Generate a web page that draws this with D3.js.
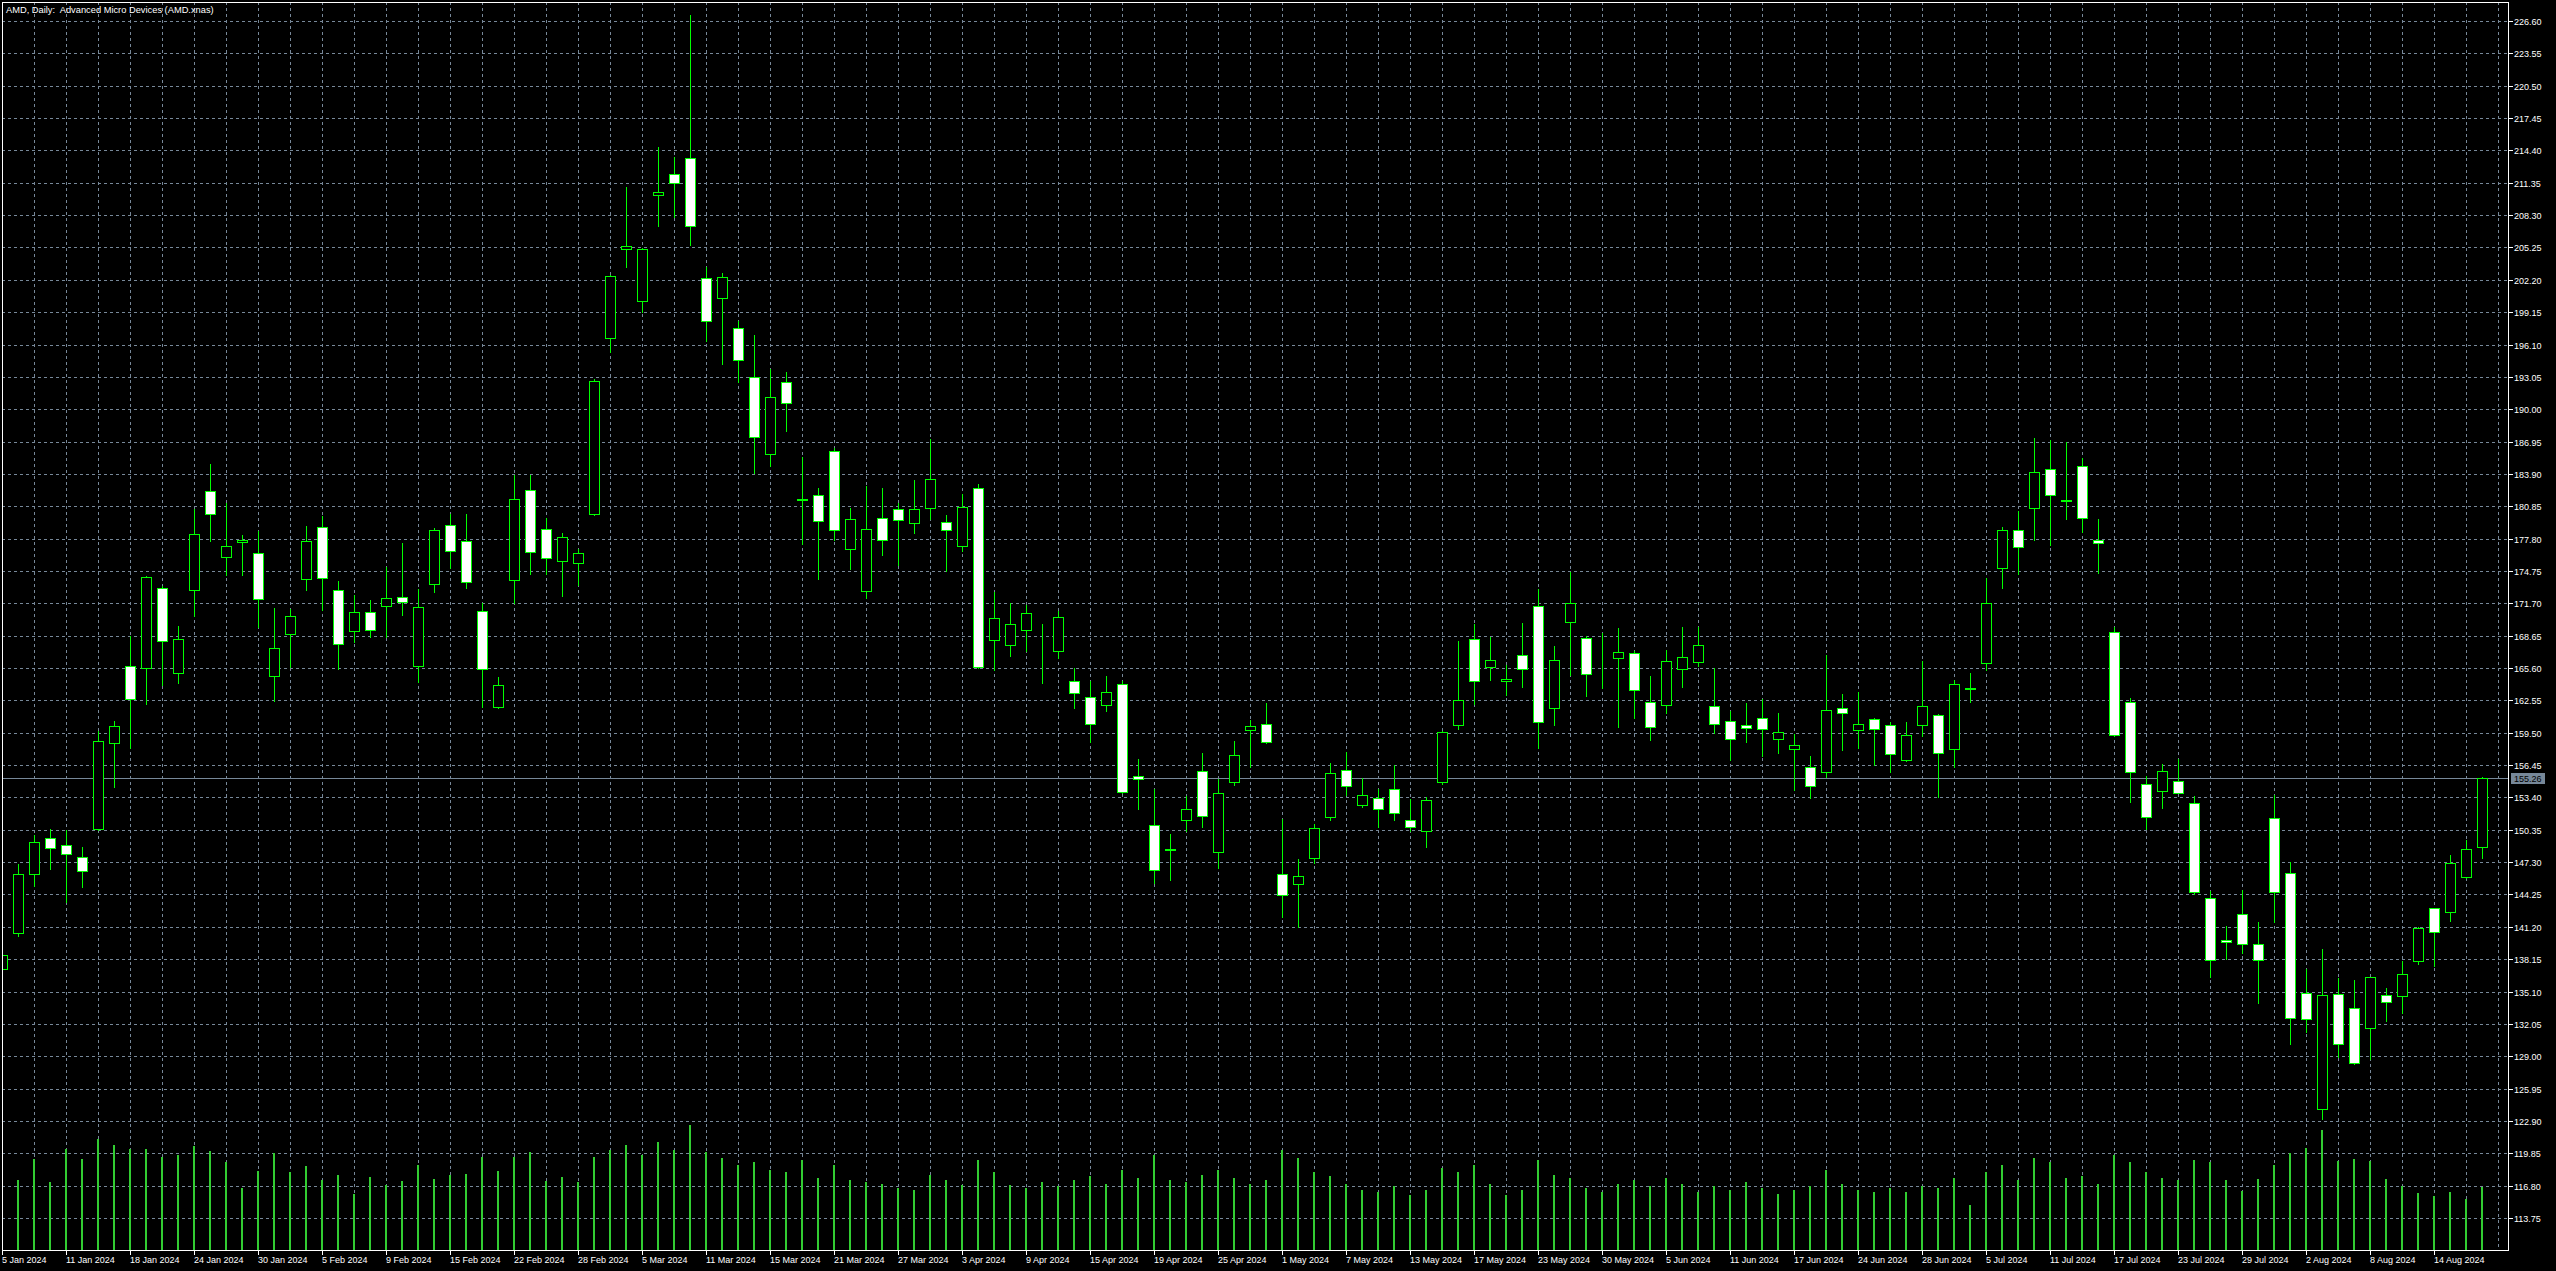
<!DOCTYPE html>
<html><head><meta charset="utf-8">
<script src="https://cdn.jsdelivr.net/npm/d3@7"></script>
<style>html,body{margin:0;padding:0;background:#000;overflow:hidden}</style>
</head><body>
<script>
const title = "AMD, Daily:  Advanced Micro Devices (AMD.xnas)";
const lastPrice = 155.26;

const dates = [
"5 Jan 2024","8 Jan 2024","9 Jan 2024","10 Jan 2024","11 Jan 2024","12 Jan 2024","16 Jan 2024","17 Jan 2024","18 Jan 2024","19 Jan 2024","22 Jan 2024","23 Jan 2024","24 Jan 2024","25 Jan 2024","26 Jan 2024","29 Jan 2024","30 Jan 2024","31 Jan 2024",
"1 Feb 2024","2 Feb 2024","5 Feb 2024","6 Feb 2024","7 Feb 2024","8 Feb 2024","9 Feb 2024","12 Feb 2024","13 Feb 2024","14 Feb 2024","15 Feb 2024","16 Feb 2024","20 Feb 2024","21 Feb 2024","22 Feb 2024","23 Feb 2024","26 Feb 2024","27 Feb 2024","28 Feb 2024","29 Feb 2024",
"1 Mar 2024","4 Mar 2024","5 Mar 2024","6 Mar 2024","7 Mar 2024","8 Mar 2024","11 Mar 2024","12 Mar 2024","13 Mar 2024","14 Mar 2024","15 Mar 2024","18 Mar 2024","19 Mar 2024","20 Mar 2024","21 Mar 2024","22 Mar 2024","25 Mar 2024","26 Mar 2024","27 Mar 2024","28 Mar 2024",
"1 Apr 2024","2 Apr 2024","3 Apr 2024","4 Apr 2024","5 Apr 2024","8 Apr 2024","9 Apr 2024","10 Apr 2024","11 Apr 2024","12 Apr 2024","15 Apr 2024","16 Apr 2024","17 Apr 2024","18 Apr 2024","19 Apr 2024","22 Apr 2024","23 Apr 2024","24 Apr 2024","25 Apr 2024","26 Apr 2024","29 Apr 2024","30 Apr 2024",
"1 May 2024","2 May 2024","3 May 2024","6 May 2024","7 May 2024","8 May 2024","9 May 2024","10 May 2024","13 May 2024","14 May 2024","15 May 2024","16 May 2024","17 May 2024","20 May 2024","21 May 2024","22 May 2024","23 May 2024","24 May 2024","28 May 2024","29 May 2024","30 May 2024","31 May 2024",
"3 Jun 2024","4 Jun 2024","5 Jun 2024","6 Jun 2024","7 Jun 2024","10 Jun 2024","11 Jun 2024","12 Jun 2024","13 Jun 2024","14 Jun 2024","17 Jun 2024","18 Jun 2024","20 Jun 2024","21 Jun 2024","24 Jun 2024","25 Jun 2024","26 Jun 2024","27 Jun 2024","28 Jun 2024",
"1 Jul 2024","2 Jul 2024","3 Jul 2024","5 Jul 2024","8 Jul 2024","9 Jul 2024","10 Jul 2024","11 Jul 2024","12 Jul 2024","15 Jul 2024","16 Jul 2024","17 Jul 2024","18 Jul 2024","19 Jul 2024","22 Jul 2024","23 Jul 2024","24 Jul 2024","25 Jul 2024","26 Jul 2024","29 Jul 2024","30 Jul 2024","31 Jul 2024",
"1 Aug 2024","2 Aug 2024","5 Aug 2024","6 Aug 2024","7 Aug 2024","8 Aug 2024","9 Aug 2024","12 Aug 2024","13 Aug 2024","14 Aug 2024","15 Aug 2024","16 Aug 2024","19 Aug 2024"];

const openP = [
137.23,140.63,146.19,149.58,148.89,147.79,150.43,158.51,165.80,165.61,
173.15,165.14,172.96,182.30,176.07,177.49,176.45,164.82,168.82,174.00,
178.90,172.96,169.05,170.85,171.47,172.32,165.82,173.48,179.04,177.62,
170.94,161.94,173.92,182.34,178.73,175.70,175.48,180.16,196.76,205.09,
200.24,210.17,212.22,213.64,202.33,200.46,197.64,193.00,185.76,192.57,
181.40,181.91,186.06,176.82,172.86,179.75,180.60,179.25,180.71,179.36,
177.09,182.56,168.23,167.73,169.16,166.90,167.23,164.38,162.84,162.11,
164.07,155.41,150.82,148.45,151.26,155.92,148.28,154.88,159.75,160.35,
146.20,145.26,147.71,151.58,156.01,152.71,153.37,154.22,151.26,150.23,
154.85,160.22,168.37,165.66,164.41,166.86,171.48,161.86,169.97,168.46,
166.74,166.58,167.05,162.43,162.14,165.54,166.20,162.05,160.63,160.26,
160.92,158.94,157.99,156.29,155.82,161.86,159.75,160.82,160.20,156.92,
160.22,161.16,157.97,163.65,166.12,175.00,178.62,180.68,184.38,181.45,
184.67,177.71,168.95,162.43,154.64,153.99,154.93,152.86,143.92,139.94,
142.40,139.57,151.45,146.26,134.95,124.00,134.85,133.53,131.64,134.76,
134.66,137.96,142.96,142.58,145.89,148.72];

const highP = [
139.40,147.16,149.83,150.46,150.37,148.73,159.64,160.64,168.60,174.30,
173.30,169.60,180.63,184.87,181.17,178.18,178.49,171.30,171.17,179.03,
179.97,173.84,172.45,172.05,175.08,177.35,173.07,178.80,180.16,180.16,
171.69,164.79,183.81,183.81,179.71,178.37,176.81,192.89,202.70,210.93,
205.20,214.71,213.78,227.18,203.44,202.87,198.34,196.96,193.81,193.54,
185.49,182.56,186.33,180.67,182.75,182.56,181.17,183.33,187.18,180.02,
182.02,182.94,172.74,171.70,171.58,169.77,171.01,165.62,164.34,164.84,
164.40,156.99,154.16,149.91,153.53,157.62,155.16,158.68,160.73,162.27,
151.39,147.62,150.86,156.61,157.71,155.26,154.16,156.42,153.28,153.47,
159.70,168.12,169.72,168.49,165.85,169.81,173.08,167.71,174.66,168.60,
168.93,169.41,167.20,164.81,167.30,169.50,169.50,165.57,161.55,162.27,
162.71,161.33,159.34,157.27,166.86,163.12,163.37,160.90,160.54,160.51,
166.30,161.30,164.49,165.14,174.05,178.91,180.36,187.24,187.06,186.95,
185.43,179.63,169.49,162.79,155.44,156.56,157.03,153.52,144.60,141.30,
144.69,141.67,153.65,147.27,137.27,139.13,136.39,136.20,136.50,135.45,
137.96,141.20,143.00,147.96,149.41,155.32];

const lowP = [
136.60,140.31,145.02,146.66,143.58,144.93,150.30,154.36,158.07,162.22,
164.04,164.16,170.48,177.55,174.41,174.35,169.47,162.47,165.74,172.93,
171.05,165.52,168.05,168.49,168.49,170.58,164.26,172.81,175.03,173.16,
161.94,161.80,171.69,174.50,174.50,172.41,173.39,179.98,195.43,203.44,
199.12,207.23,208.12,205.49,196.45,194.23,192.55,183.95,184.64,187.99,
177.28,173.97,177.63,174.97,172.16,176.21,175.36,178.32,179.67,174.78,
176.63,165.62,165.42,166.77,167.16,164.15,166.50,161.84,158.61,161.57,
153.80,152.27,145.29,145.61,150.23,150.64,146.77,154.57,156.26,158.50,
142.12,141.20,147.24,151.23,153.59,152.49,150.64,151.23,150.23,148.75,
154.63,159.82,162.24,164.47,163.05,163.81,158.09,160.22,164.91,162.96,
163.75,160.04,160.85,158.81,161.39,163.81,165.79,159.50,156.92,158.62,
157.30,157.62,154.09,153.34,155.35,157.87,158.09,156.45,155.78,156.85,
159.17,153.48,156.27,162.39,165.40,173.19,174.49,177.71,177.17,179.63,
178.40,174.56,159.20,153.01,150.47,152.36,153.80,144.31,136.50,138.21,
138.69,134.06,141.61,130.20,131.24,123.06,128.97,128.30,128.72,132.34,
133.12,137.74,137.55,141.77,145.80,147.65];

const closeP = [
138.52,146.19,149.20,148.64,148.07,146.44,158.73,160.14,162.69,174.19,
168.12,168.34,178.24,180.13,177.11,177.71,172.11,167.50,170.51,177.58,
174.09,167.87,170.85,169.20,172.23,171.87,171.38,178.64,176.68,173.70,
165.55,164.04,181.58,176.50,175.97,177.97,176.46,192.62,202.60,205.36,
205.09,210.44,211.37,207.32,198.28,202.51,194.64,187.37,191.15,190.61,
181.50,179.48,178.63,179.63,178.71,177.67,179.56,180.60,183.41,178.63,
180.79,165.69,170.31,169.77,170.78,166.96,170.39,163.23,160.34,163.34,
153.94,155.16,146.55,148.50,152.33,151.67,153.84,157.43,160.16,158.65,
144.22,145.98,150.54,155.73,154.47,153.65,152.33,151.96,150.64,153.18,
159.60,162.61,164.41,166.39,164.59,165.54,160.54,166.39,171.76,165.07,
166.78,167.14,163.56,160.07,166.29,166.67,167.80,160.35,158.94,159.97,
159.88,159.60,158.37,154.47,161.67,161.39,160.35,159.88,157.48,159.28,
162.03,157.57,164.13,163.73,171.70,178.62,176.99,184.09,181.91,181.37,
179.74,177.39,159.28,155.80,151.52,155.87,153.84,144.50,138.06,139.75,
139.57,138.06,144.47,132.59,132.49,134.76,130.13,128.34,136.45,134.10,
136.74,141.08,140.70,147.21,148.53,155.26];

const volumes = [
65,70,91,68,101,91,111,105,101,101,
93,95,104,99,88,62,79,97,78,84,
70,75,56,73,65,69,85,71,75,76,
93,79,93,98,69,73,68,93,100,105,
95,108,100,125,98,92,85,88,80,78,
90,72,85,70,68,66,62,60,75,70,
65,90,78,65,62,68,64,70,74,66,
80,72,95,70,68,75,80,72,66,70,
100,92,78,74,66,60,58,64,55,60,
82,78,85,66,55,60,90,75,72,62,
58,66,70,64,72,66,58,64,60,68,
62,56,60,64,80,66,60,58,62,58,
64,62,72,45,78,85,70,92,88,72,
74,66,95,88,78,72,70,90,88,70,
59,71,85,97,102,120,89,91,89,71,
64,57,54,58,51,63];

const priceTicks = ["226.60","223.55","220.50","217.45","214.40","211.35","208.30","205.25","202.20","199.15",
"196.10","193.05","190.00","186.95","183.90","180.85","177.80","174.75","171.70","168.65",
"165.60","162.55","159.50","156.45","153.40","150.35","147.30","144.25","141.20","138.15",
"135.10","132.05","129.00","125.95","122.90","119.85","116.80","113.75"];

const W = 2556, H = 1271;
const L = 2, T = 2, R = 2508, B = 1250;
const FONT = "'Liberation Sans', Arial, sans-serif";
const GRID = "#778899";
const LIME = "#00ff00";

const svg = d3.select("body").append("svg")
  .attr("width", W).attr("height", H)
  .style("display", "block").style("background", "#000");

svg.append("rect").attr("width", W).attr("height", H).attr("fill", "#000");

const x = d3.scaleLinear().domain([0, dates.length - 1]).range([2.5, 2482.5]);
const y = d3.scaleLinear().domain([113.75, 226.60]).range([1218.5, 21.5]);
const yv = d3.scaleLinear().domain([0, 130]).range([B, B - 130]);
const row = v => Math.floor(v) + 0.5;

const data = dates.map((d, i) => ({d, i, o: openP[i], h: highP[i], l: lowP[i], c: closeP[i], v: volumes[i]}));

svg.append("defs").append("clipPath").attr("id", "plot")
  .append("rect").attr("x", L + 1).attr("y", T + 1).attr("width", R - L - 1).attr("height", B - T - 1);

const plot = svg.append("g").attr("clip-path", "url(#plot)");

// horizontal grid
plot.append("g").selectAll("line").data(priceTicks).join("line")
  .attr("x1", L).attr("x2", R)
  .attr("y1", d => row(y(+d))).attr("y2", d => row(y(+d)))
  .attr("stroke", GRID).attr("stroke-width", 1).attr("stroke-dasharray", "3,3");

// vertical grid every 2 bars
const vIdx = d3.range(0, dates.length + 1, 2);
plot.append("g").selectAll("line").data(vIdx).join("line")
  .attr("x1", d => x(d)).attr("x2", d => x(d))
  .attr("y1", T).attr("y2", B)
  .attr("stroke", GRID).attr("stroke-width", 1).attr("stroke-dasharray", "3,3");

// volumes
plot.append("g").selectAll("rect").data(data).join("rect")
  .attr("x", d => x(d.i) - 1.5).attr("width", 2)
  .attr("y", d => Math.round(yv(d.v))).attr("height", d => B - Math.round(yv(d.v)))
  .attr("fill", "#32cd32");

// current price line
plot.append("line").attr("x1", L).attr("x2", R)
  .attr("y1", row(y(lastPrice))).attr("y2", row(y(lastPrice)))
  .attr("stroke", GRID).attr("stroke-width", 1);

// candles
const cg = plot.append("g");
cg.selectAll("line.wick").data(data).join("line").attr("class", "wick")
  .attr("x1", d => x(d.i)).attr("x2", d => x(d.i))
  .attr("y1", d => Math.floor(y(d.h))).attr("y2", d => Math.floor(y(d.l)) + 1)
  .attr("stroke", LIME).attr("stroke-width", 1);
cg.selectAll("rect.body").data(data).join("rect").attr("class", "body")
  .attr("x", d => x(d.i) - 5).attr("width", 10)
  .attr("y", d => row(y(Math.max(d.o, d.c))))
  .attr("height", d => Math.floor(y(Math.min(d.o, d.c))) - Math.floor(y(Math.max(d.o, d.c))))
  .attr("fill", d => d.c >= d.o ? "#000" : "#fff")
  .attr("stroke", LIME).attr("stroke-width", 1);

// frame
svg.append("rect").attr("x", L + 0.5).attr("y", T + 0.5)
  .attr("width", R - L).attr("height", B - T)
  .attr("fill", "none").attr("stroke", "#fff").attr("stroke-width", 1);

// price axis
const pa = svg.append("g");
pa.selectAll("line").data(priceTicks).join("line")
  .attr("x1", R + 1).attr("x2", R + 5)
  .attr("y1", d => row(y(+d))).attr("y2", d => row(y(+d)))
  .attr("stroke", "#fff");
pa.selectAll("text").data(priceTicks).join("text")
  .attr("x", R + 6).attr("y", d => row(y(+d)) + 3.2)
  .attr("fill", "#fff").attr("font-family", FONT).attr("font-size", 9)
  .text(d => d);

// last price label
const ly = row(y(lastPrice));
svg.append("rect").attr("x", R + 3).attr("y", ly - 5.5).attr("width", 34).attr("height", 11).attr("fill", GRID);
svg.append("text").attr("x", R + 6).attr("y", ly + 3.2)
  .attr("fill", "#000").attr("font-family", FONT).attr("font-size", 9)
  .text(lastPrice.toFixed(2));

// date axis
const dTicks = data.filter(d => d.i % 4 === 0);
const da = svg.append("g");
da.selectAll("line").data(dTicks).join("line")
  .attr("x1", d => x(d.i)).attr("x2", d => x(d.i))
  .attr("y1", B + 1).attr("y2", B + 5)
  .attr("stroke", "#fff");
da.selectAll("text").data(dTicks).join("text")
  .attr("x", d => Math.max(x(d.i) - 0.5, 1)).attr("y", 1263)
  .attr("fill", "#fff").attr("font-family", FONT).attr("font-size", 9)
  .text(d => d.d);

// title
svg.append("text").attr("x", 6).attr("y", 12.5)
  .attr("fill", "#fff").attr("font-family", FONT).attr("font-size", 9.3)
  .style("white-space", "pre")
  .text(title);
</script>
</body></html>
